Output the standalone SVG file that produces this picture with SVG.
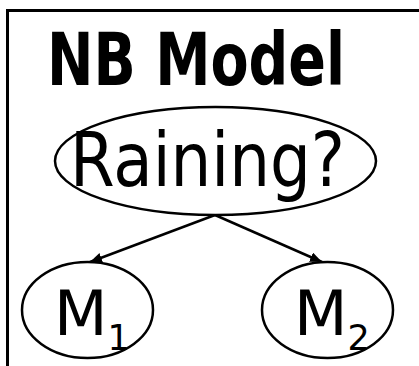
<svg xmlns="http://www.w3.org/2000/svg" width="419" height="366" viewBox="0 0 419 366">
  <style>
    .node { fill: #fff; stroke: #000; stroke-width: 2.5; }
    .lbl { font-family: "DejaVu Sans", sans-serif; fill: #000; }
    .edge { stroke: #000; stroke-width: 2.5; fill: none; }
  </style>
  <defs>
    <marker id="arr" viewBox="0 0 12 10" refX="12" refY="5" markerWidth="12" markerHeight="10" markerUnits="userSpaceOnUse" orient="auto">
      <path d="M0,0 L12,5 L0,10 Z" fill="#000"/>
    </marker>
  </defs>
  <rect width="419" height="366" fill="#fff"/>
  <g id="frame">
    <path d="M7.5,366 V10.5 H419" fill="none" stroke="#000" stroke-width="3"/>
  </g>
  <g id="title">
    <text class="lbl" x="47" y="85" font-size="73" font-weight="bold" textLength="298" lengthAdjust="spacingAndGlyphs">NB Model</text>
  </g>
  <g id="connectors">
    <line class="edge" x1="215" y1="215" x2="90" y2="262" marker-end="url(#arr)"/>
    <line class="edge" x1="215" y1="215" x2="322" y2="262" marker-end="url(#arr)"/>
  </g>
  <g id="raining">
    <ellipse class="node" cx="215.5" cy="161" rx="160.5" ry="54"/>
    <text class="lbl" x="70" y="186" font-size="74" textLength="275" lengthAdjust="spacingAndGlyphs">Raining?</text>
  </g>
  <g id="m1">
    <ellipse class="node" cx="87.5" cy="310" rx="65.5" ry="48"/>
    <text class="lbl" x="54" y="335" font-size="62">M<tspan class="lbl" font-size="35" dy="15">1</tspan></text>
  </g>
  <g id="m2">
    <ellipse class="node" cx="327.5" cy="310" rx="65.5" ry="48"/>
    <text class="lbl" x="294" y="335" font-size="62">M<tspan class="lbl" font-size="35" dy="15">2</tspan></text>
  </g>
</svg>
